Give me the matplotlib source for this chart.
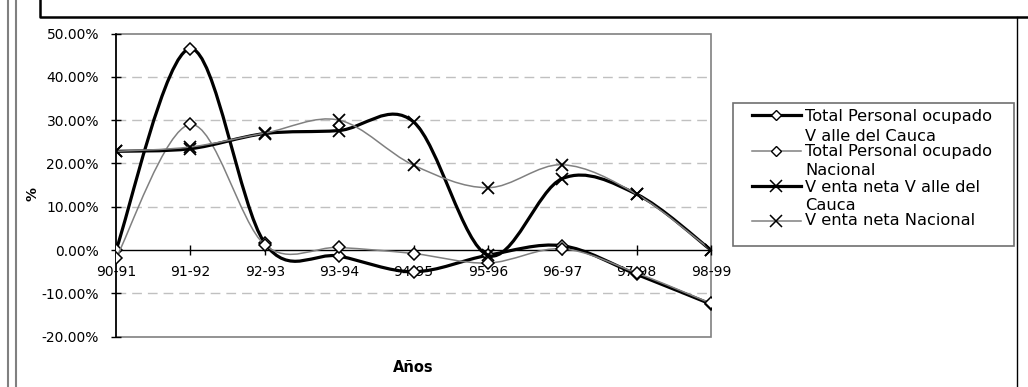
import matplotlib
matplotlib.use('Agg')
import matplotlib.pyplot as plt
import numpy as np
from matplotlib.path import Path
from matplotlib.patches import PathPatch, Rectangle
from matplotlib.lines import Line2D
from matplotlib.ticker import FuncFormatter

plt.rcParams['font.family'] = ['DejaVu Sans']

years = ['90-91', '91-92', '92-93', '93-94', '94-95', '95-96', '96-97', '97-98', '98-99']
personal_valle = [0.0, 46.5, 1.6, -1.4, -5.0, -1.2, 1.0, -5.6, -12.5]
personal_nacional = [-1.9, 29.0, 1.2, 0.6, -0.8, -3.0, 0.3, -5.3, -12.3]
venta_valle = [22.8, 23.4, 26.9, 27.6, 29.6, -1.2, 16.5, 12.9, 0.0]
venta_nacional = [22.8, 23.8, 27.0, 30.0, 19.6, 14.4, 19.7, 12.9, 0.0]

labels = [['Total Personal ocupado', 'V alle del Cauca'],
          ['Total Personal ocupado', 'Nacional'],
          ['V enta neta V alle del', 'Cauca'],
          ['V enta neta Nacional']]


def smooth_path(x, y):
    # excel-like smoothed line: catmull-rom turned into cubic beziers
    pts = np.column_stack([x, y]).astype(float)
    n = len(pts)
    verts = [pts[0]]
    codes = [Path.MOVETO]
    for i in range(n - 1):
        p0 = pts[max(i - 1, 0)]
        p1 = pts[i]
        p2 = pts[i + 1]
        p3 = pts[min(i + 2, n - 1)]
        verts += [p1 + (p2 - p0) / 6, p2 - (p3 - p1) / 6, p2]
        codes += [Path.CURVE4] * 3
    return Path(verts, codes)


fig = plt.figure(figsize=(10.28, 3.87), dpi=100)
ax = fig.add_axes([116 / 1028, 1 - 336.7 / 387, 595 / 1028, 303.2 / 387])

x = np.arange(len(years))
series = [
    (personal_valle, 'black', 2.3, 'D'),
    (personal_nacional, '#808080', 1.1, 'D'),
    (venta_valle, 'black', 2.3, 'x'),
    (venta_nacional, '#808080', 1.1, 'x'),
]
for k, (vals, col, lw, mk) in enumerate(series):
    v = np.array(vals) / 100
    ax.add_patch(PathPatch(smooth_path(x, v), facecolor='none', edgecolor=col,
                           lw=lw, zorder=3 + k, capstyle='round', joinstyle='round'))
    if mk == 'D':
        ax.plot(x, v, ls='none', marker='D', ms=6.5, mfc='white', mec='black',
                mew=1.1, zorder=3.5 + k)
    else:
        ax.plot(x, v, ls='none', marker='x', ms=9, mec='black', mew=1.3,
                zorder=3.5 + k)

ax.set_xlim(0, 8)
ax.set_ylim(-0.2, 0.5)
ax.set_yticks(np.arange(-0.2, 0.51, 0.1))
ax.yaxis.set_major_formatter(FuncFormatter(lambda v, p: '%.2f%%' % (v * 100)))
ax.set_xticks(x)
ax.set_xticklabels(years)

for g in [-0.1, 0.1, 0.2, 0.3, 0.4]:
    ax.axhline(g, color='#c0c0c0', lw=1, ls=(0, (7, 4.3)), zorder=1)

for s in ['top', 'right']:
    ax.spines[s].set_visible(False)
ax.spines['bottom'].set_position(('data', 0))
ax.spines['bottom'].set_linewidth(1)
ax.spines['left'].set_linewidth(1.2)
ax.add_patch(Rectangle((0, 0), 1, 1, transform=ax.transAxes, fill=False,
                       edgecolor='#808080', lw=1.2, zorder=0.5, clip_on=False))

ax.tick_params(axis='both', direction='inout', length=7.5, width=1,
               labelsize=10, colors='black')
ax.tick_params(axis='x', pad=7)
ax.tick_params(axis='y', pad=8.5)

ax.set_xlabel('Años', fontsize=10.5, fontweight='bold')
ax.xaxis.set_label_coords(0.499, -0.078)
ax.set_ylabel('%', fontsize=10, fontweight='bold')
ax.yaxis.set_label_coords(-0.128, 0.47)

# legend drawn by hand to mimic the two-line excel entries
W, H = 1028.0, 387.0
fig.add_artist(Rectangle((733 / W, 1 - 246.5 / H), 281 / W, 143.2 / H,
                         transform=fig.transFigure, fill=False,
                         edgecolor='#707070', lw=1.2))
handle_rows = [115, 151, 186, 220.5]
text_rows = [[120.5, 140.5], [156, 175.5], [191.5, 210.5], [225.5]]
for (vals, col, lw, mk), lab, hy, ty in zip(series, labels, handle_rows, text_rows):
    yf = 1 - hy / H
    fig.add_artist(Line2D([752 / W, 801 / W], [yf, yf], color=col, lw=lw,
                          transform=fig.transFigure))
    if mk == 'D':
        fig.add_artist(Line2D([776 / W], [yf], ls='none', marker='D', ms=5.5,
                              mfc='white', mec='black', mew=1,
                              transform=fig.transFigure))
    else:
        fig.add_artist(Line2D([776 / W], [yf], ls='none', marker='x', ms=8,
                              mec='black', mew=1.1, transform=fig.transFigure))
    for line, yb in zip(lab, ty):
        fig.text(805 / W, 1 - yb / H, line, fontsize=11.7, va='baseline',
                 ha='left')

# outer frame pieces of the original sheet
fig.add_artist(Line2D([8 / W, 8 / W], [0, 1], color='#808080', lw=1.5))
fig.add_artist(Line2D([16 / W, 16 / W], [0, 1], color='#808080', lw=1.5))
fig.add_artist(Line2D([40 / W, 40 / W, 1.0], [1.0, 1 - 17.3 / H, 1 - 17.3 / H],
                      color='black', lw=1.8))
fig.add_artist(Line2D([1016.7 / W, 1016.7 / W], [1 - 17.3 / H, 0],
                      color='black', lw=1.0))

fig.savefig('out.png', dpi=100)
